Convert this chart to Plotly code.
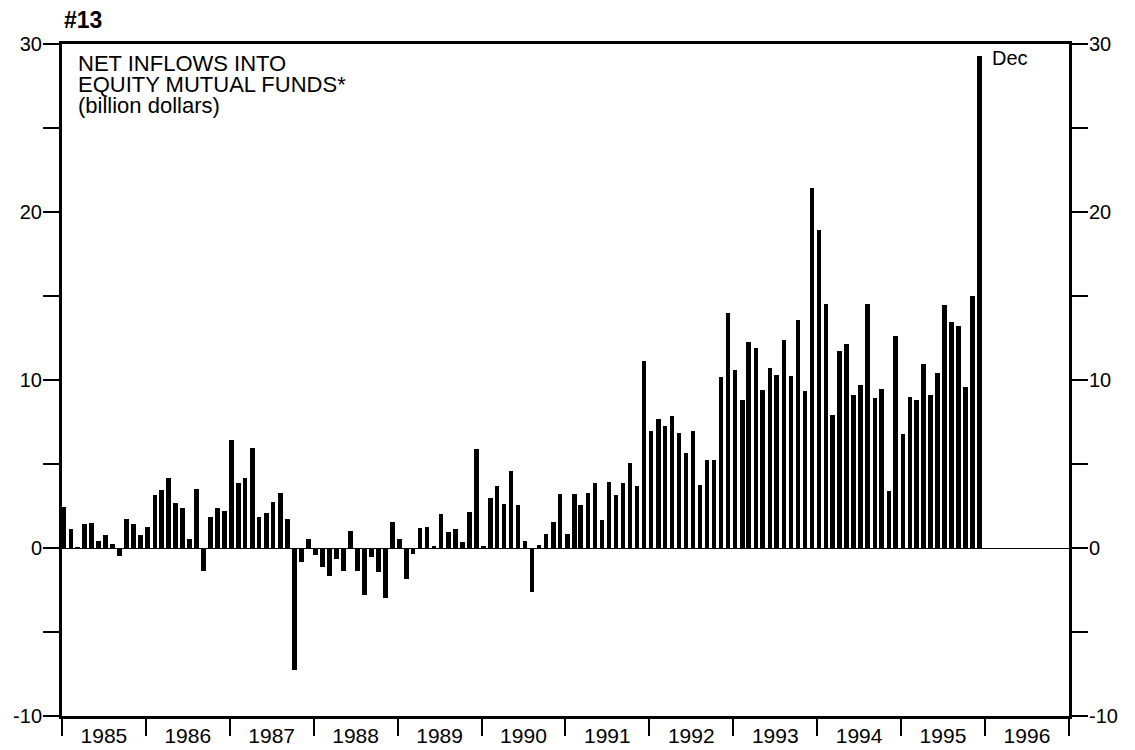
import plotly.graph_objects as go
import pandas as pd

# Monthly net inflows into equity mutual funds, billion dollars (Jan 1985 - Dec 1995)
v1985 = [2.43, 1.13, 0.05, 1.43, 1.51, 0.42, 0.76, 0.22, -0.50, 1.71, 1.43, 0.76]
v1986 = [1.23, 3.16, 3.44, 4.17, 2.66, 2.37, 0.52, 3.54, -1.37, 1.87, 2.41, 2.19]
v1987 = [6.40, 3.86, 4.16, 5.96, 1.83, 2.07, 2.72, 3.28, 1.73, -7.24, -0.85, 0.56]
v1988 = [-0.44, -1.11, -1.67, -0.68, -1.35, 0.99, -1.37, -2.80, -0.52, -1.41, -3.00, 1.57]
v1989 = [0.52, -1.85, -0.36, 1.17, 1.25, 0.06, 2.05, 0.95, 1.15, 0.36, 2.15, 5.90]
v1990 = [0.10, 2.96, 3.72, 2.60, 4.61, 2.54, 0.40, -2.64, 0.16, 0.85, 1.53, 3.22]
v1991 = [0.85, 3.20, 2.58, 3.30, 3.86, 1.67, 3.94, 3.14, 3.86, 5.05, 3.68, 11.13]
v1992 = [6.98, 7.65, 7.28, 7.87, 6.86, 5.65, 6.96, 3.74, 5.23, 5.23, 10.18, 13.98]
v1993 = [10.58, 8.83, 12.27, 11.89, 9.42, 10.70, 10.28, 12.41, 10.24, 13.56, 9.34, 21.43]
v1994 = [18.90, 14.55, 7.93, 11.75, 12.17, 9.13, 9.68, 14.55, 8.95, 9.44, 3.42, 12.64]
v1995 = [6.78, 8.98, 8.79, 10.98, 9.10, 10.39, 14.49, 13.48, 13.22, 9.59, 15.00, 29.28]

values = (v1985 + v1986 + v1987 + v1988 + v1989 + v1990 + v1991 + v1992
          + v1993 + v1994 + v1995)
months = pd.date_range("1985-01-01", periods=len(values), freq="MS")
bar_x = months + pd.Timedelta(days=8)

y_tickvals = [-10, -5, 0, 5, 10, 15, 20, 25, 30]
y_ticktext = ["-10", "", "0", "", "10", "", "20", "", "30"]

title_lines = ["NET INFLOWS INTO", "EQUITY MUTUAL FUNDS*", "(billion dollars)"]

FONT = "Liberation Sans, Arial, sans-serif"
DAY_MS = 86400000

# page body has an 8px margin: figure is placed at (8, 8)
W, H = 1127, 742
ML, MR, MT, MB = 54, 66, 36, 34
PW = W - ML - MR
PH = H - MT - MB

fig = go.Figure()
fig.add_trace(go.Bar(
    x=bar_x, y=values,
    marker=dict(color="black", line=dict(width=0)),
    width=20 * DAY_MS,
    showlegend=False, hoverinfo="x+y",
))
# invisible trace to activate right axis
fig.add_trace(go.Scatter(
    x=[months[0]], y=[0], yaxis="y2", mode="markers",
    marker=dict(opacity=0), showlegend=False, hoverinfo="skip",
))

axis_common_y = dict(
    range=[-10, 30], tickvals=y_tickvals, ticktext=y_ticktext,
    ticks="outside", ticklen=16, tickwidth=1.5, tickcolor="black",
    showgrid=False, tickfont=dict(family=FONT, size=20, color="black"),
    ticklabelstandoff=-3,
)

fig.update_layout(
    width=W, height=H,
    margin=dict(l=ML, r=MR, t=MT, b=MB, autoexpand=False),
    paper_bgcolor="white", plot_bgcolor="white",
    font=dict(family=FONT, color="black"),
    bargap=0,
    title=dict(text="<b>#13</b>", x=(64 - 8) / W, xanchor="left",
               y=1 - (20 - 8) / H, yanchor="middle",
               font=dict(family=FONT, size=23, color="black")),
    xaxis=dict(
        type="date", range=["1985-01-01", "1997-01-01"],
        tick0="1985-01-01", dtick="M12", tickformat="%Y",
        ticklabelmode="period", ticks="outside", ticklen=17, tickwidth=1.5,
        tickcolor="black", ticklabelstandoff=-18,
        showline=True, linewidth=2.5, linecolor="black", mirror=True,
        showgrid=False, zeroline=False,
        tickfont=dict(family=FONT, size=21, color="black"),
    ),
    yaxis=dict(
        **axis_common_y,
        showline=True, linewidth=3, linecolor="black",
        zeroline=True, zerolinewidth=1, zerolinecolor="black",
    ),
    yaxis2=dict(
        **axis_common_y, overlaying="y", side="right",
        showline=True, linewidth=3, linecolor="black", zeroline=False,
    ),
)

# target page y-centres of the three title lines: 63, 84, 105
for txt, py in zip(title_lines, [63, 84, 105]):
    fig.add_annotation(
        text=txt, xref="paper", yref="paper", x=(76 - 62) / PW,
        y=(716 - py) / PH,
        xanchor="left", yanchor="middle", showarrow=False,
        font=dict(family=FONT, size=22, color="black"),
    )

fig.add_annotation(
    text="Dec", xref="paper", yref="paper", x=(990 - 62) / PW,
    y=(716 - 58) / PH, xanchor="left", yanchor="middle", showarrow=False,
    font=dict(family=FONT, size=20, color="black"),
)

fig.write_html("out.html")
